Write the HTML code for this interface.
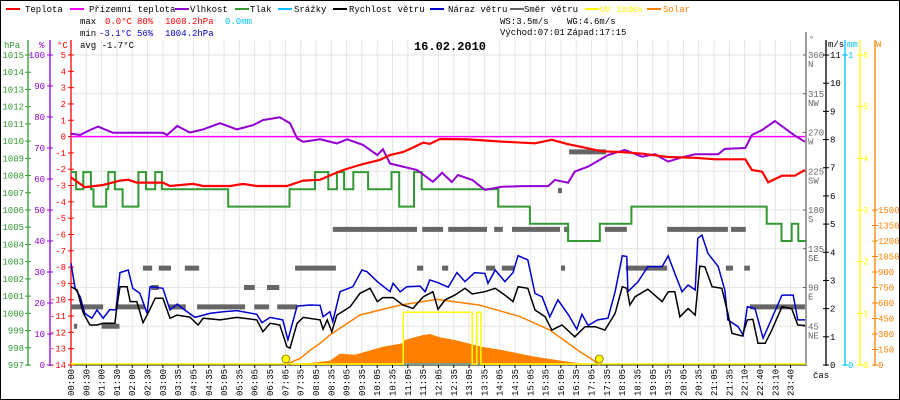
<!DOCTYPE html>
<html><head><meta charset="utf-8">
<style>
html,body{margin:0;padding:0;background:#fff;}
svg{display:block;}
text{font-family:"Liberation Mono","DejaVu Sans Mono",monospace;font-size:9px;}
</style></head>
<body>
<svg id="chart" width="900" height="400" viewBox="0 0 900 400" xmlns="http://www.w3.org/2000/svg">
<rect x="0.5" y="0.5" width="899" height="399" fill="#fff" stroke="#000"/>
<g id="grid"></g>
<g id="legend">
<rect x="6" y="8" width="14" height="2" fill="#f00"/><text x="25" y="12">Teplota</text>
<rect x="70" y="8" width="14" height="2" fill="#f0f"/><text x="89" y="12">Přízemní teplota</text>
<rect x="175" y="8" width="14" height="2" fill="#9400d3"/><text x="190" y="12">Vlhkost</text>
<rect x="235" y="8" width="14" height="2" fill="#339933"/><text x="250" y="12">Tlak</text>
<rect x="278" y="8" width="14" height="2" fill="#00bfff"/><text x="294" y="12">Srážky</text>
<rect x="333" y="8" width="14" height="2" fill="#000"/><text x="349" y="12">Rychlost větru</text>
<rect x="430" y="8" width="14" height="2" fill="#0000cc"/><text x="448" y="12">Náraz větru</text>
<rect x="510" y="8" width="14" height="2" fill="#666"/><text x="524" y="12">Směr větru</text>
<rect x="585" y="8" width="14" height="2" fill="#ff0"/><text x="600" y="12" fill="#ff0">UV index</text>
<rect x="647" y="8" width="14" height="2" fill="#ff8000"/><text x="663" y="12" fill="#ff8000">Solar</text>
</g>
<g id="stats">
<text x="80" y="24">max</text><text x="105" y="24" fill="#f00">0.0°C</text><text x="137" y="24" fill="#f00">80%</text><text x="165" y="24" fill="#f00">1008.2hPa</text><text x="225" y="24" fill="#00bfff">0.0mm</text>
<text x="80" y="36">min</text><text x="99" y="36" fill="#0000cc">-3.1°C</text><text x="137" y="36" fill="#0000cc">56%</text><text x="165" y="36" fill="#0000cc">1004.2hPa</text>
<text x="80" y="48">avg -1.7°C</text>
<text x="500" y="24">WS:3.5m/s</text><text x="567" y="24">WG:4.6m/s</text>
<text x="500" y="35">Východ:07:01</text><text x="567" y="35">Západ:17:15</text>
</g>
<text x="450" y="50" text-anchor="middle" style="font-size:12px;font-weight:bold">16.02.2010</text>
<g id="axes">
<text x="4" y="48" fill="#339933">hPa</text><text x="39" y="48" fill="#9400d3">%</text><text x="57" y="48" fill="#f00">°C</text>
<text x="809" y="42" fill="#666">°</text><text x="828" y="47">m/s</text><text x="847" y="47" fill="#00bfff">mm</text><text x="876" y="47" fill="#ff8000">W</text>
<text x="813" y="378">čas</text>
</g>
<g id="series"></g>
</svg>
<script>
// ---- data ----
const tempTimes=[0,27,63,96,112,129,180,194,239,259,312,337,364,423,455,488,502,533,572,605,625,650,664,690,703,723,778,844,909,942,974,1007,1040,1080,1119,1170,1223,1262,1321,1334,1354,1366,1393,1418,1438];
const tempValues=[-2.5,-3.1,-2.97,-2.7,-2.65,-2.82,-2.82,-3.03,-2.9,-3.03,-3.03,-2.9,-3.03,-3.03,-2.7,-2.65,-2.45,-2.05,-1.68,-1.43,-1.13,-0.95,-0.76,-0.37,-0.45,-0.15,-0.17,-0.31,-0.41,-0.2,-0.47,-0.68,-0.9,-0.95,-1.05,-1.25,-1.3,-1.39,-1.39,-2.05,-2.15,-2.8,-2.4,-2.4,-2.05];
const feelTimes=[0,1438];
const feelValues=[0,0];
const humTimes=[0,18,37,53,82,180,188,208,233,259,292,325,357,376,409,429,443,455,488,521,541,572,600,611,625,650,678,709,727,746,758,786,811,844,884,935,948,974,987,1013,1052,1085,1119,1144,1170,1197,1223,1268,1281,1321,1334,1354,1379,1399,1418,1438];
const humValues=[74.6,74.2,75.8,76.9,74.9,74.9,74.2,77.1,75,76,78,76,77.4,79,79.9,78,73.1,72,72.8,71.5,72.8,71,67.7,69.6,65,64,62.9,59.1,62,59,61.3,59.7,56.5,57.5,57.7,57.7,59.7,58.8,62.4,64,67.7,69.4,67.2,68,65.6,67,68,68,69.7,70,74.2,75.8,78.7,76.3,74,72];
const pressTimes=[0,10,24,39,44,69,73,86,101,132,147,165,178,308,428,478,504,521,535,553,582,628,643,672,687,837,899,974,1036,1098,1363,1392,1412,1425,1440];
const pressValues=[1008.2,1007.2,1008.2,1007.2,1006.2,1007.2,1008.2,1007.2,1006.2,1008.2,1007.2,1008.2,1007.2,1006.2,1007.2,1008.2,1007.2,1008.2,1007.2,1008.2,1007.2,1008.2,1006.2,1008.2,1007.2,1006.2,1005.2,1004.2,1005.2,1006.2,1005.2,1004.2,1005.2,1004.2,1004.2];
const windTimes=[0,12,24,37,51,63,86,90,96,110,116,129,141,151,165,180,194,208,233,249,259,292,325,364,376,390,409,423,429,443,455,488,494,502,511,521,547,566,586,600,611,631,650,670,690,709,719,733,752,772,786,811,831,850,866,876,895,909,929,942,962,987,1007,1027,1046,1066,1080,1089,1095,1105,1130,1158,1170,1183,1193,1209,1223,1232,1242,1256,1275,1287,1295,1315,1325,1336,1346,1360,1373,1393,1412,1424,1438];
const windValues=[2.78,2.66,1.84,1.42,1.42,1.48,1.48,2.07,2.78,2.78,2.25,2.25,1.5,1.84,2.37,2.37,1.66,1.77,1.7,1.42,1.66,1.6,1.69,1.6,1.18,1.48,1.42,0.65,0.6,1.48,1.69,1.6,1.27,1.6,1.18,1.77,2.07,2.54,2.72,2.25,2.39,2.39,2.13,2.01,2.42,2.6,1.98,2.31,2.48,2.72,2.52,2.6,2.72,2.48,2.25,2.78,2.72,1.95,1.71,1.24,1.42,1.0,1.36,1.36,1.24,1.83,2.78,2.72,2.13,2.42,2.69,2.25,2.6,2.6,1.71,2.0,1.77,3.51,3.48,2.78,2.72,1.83,1.12,1.03,1.6,1.62,0.77,0.77,1.24,2.07,2.0,1.42,1.4];
const gustTimes=[0,8,18,27,41,51,63,76,88,96,112,121,135,149,155,180,194,208,219,243,272,298,325,364,374,390,415,425,443,468,488,494,507,513,527,552,570,580,600,625,631,645,658,684,694,703,719,739,756,772,791,811,817,831,850,866,876,895,909,923,938,954,974,991,1001,1013,1032,1052,1066,1080,1089,1091,1111,1130,1158,1170,1183,1197,1209,1223,1228,1236,1248,1268,1281,1287,1307,1317,1325,1340,1356,1366,1393,1415,1424,1438];
const gustValues=[3.61,2.72,2.42,1.83,1.66,1.95,1.66,1.97,1.95,3.28,3.37,2.72,2.54,1.83,2.78,2.72,1.95,2.16,2.0,1.69,1.83,1.89,1.93,1.8,1.5,1.69,1.6,0.89,2.09,2.13,2.12,1.71,1.89,1.54,2.6,2.78,3.37,3.31,2.96,2.6,2.9,2.6,2.78,2.8,2.6,3.02,2.92,2.76,3.28,2.96,3.28,3.25,2.9,3.37,2.96,3.28,3.88,3.73,2.54,2.42,1.71,2.31,1.8,1.27,1.8,1.4,1.6,1.66,2.6,3.88,3.85,2.6,2.96,3.49,3.49,3.87,3.25,2.6,2.84,2.66,4.5,4.61,3.96,3.49,2.66,1.6,1.36,1.06,2.07,2.0,0.95,1.36,2.48,2.48,1.6,1.6];
const dirStart=[0,4,6,60,90,141,172,223,157,192,247,339,359,384,404,439,678,513,688,739,829,864,966,1046,1168,1293,976,954,727,813,844,960,1087,1283,1319,1330];
const dirEnd=[4,63,12,95,145,159,196,251,172,225,341,360,388,408,443,519,690,678,729,815,846,958,976,1089,1287,1322,1048,962,739,831,868,968,1168,1297,1330,1438];
const dirValues=[67.5,67.5,45,45,67.5,112.5,112.5,112.5,90,67.5,67.5,90,67.5,90,67.5,112.5,112.5,157.5,157.5,157.5,157.5,157.5,157.5,157.5,157.5,157.5,247.5,202.5,112.5,112.5,112.5,112.5,112.5,112.5,112.5,67.5];
const sunTimes=[419,449,468,488,507,566,645,717,801,880,938,997,1017,1036];
const sunValues=[0,65,140,210,290,484,580,635,580,467,339,129,68,0];
const solarTimes=[429,449,468,507,527,556,611,650,654,690,703,723,752,791,805,844,909,974,1021];
const solarValues=[0,15,19,42,110,100,177,210,242,290,300,268,242,194,177,145,80,32,0];
const uvTimes=[0,651,651,786,786,795,795,803,803,1440];
const uvValues=[0,0,1,1,0,0,1,1,0,0];
const sunEvents=[421,1035];
const timeLabels=["00:00","00:30","01:00","01:30","02:00","02:30","03:00","03:35","04:05","04:35","05:05","05:35","06:05","06:35","07:05","07:35","08:05","08:35","09:05","09:35","10:05","10:35","11:05","11:35","12:05","12:35","13:05","13:35","14:05","14:35","15:05","15:35","16:05","16:35","17:05","17:35","18:05","18:35","19:05","19:35","20:05","20:35","21:05","21:35","22:10","22:40","23:10","23:40"];
const hpaTicks=[997,998,999,1000,1001,1002,1003,1004,1005,1006,1007,1008,1009,1010,1011,1012,1013,1014,1015];
const humTicks=[0,10,20,30,40,50,60,70,80,90,100];
const tempTicks=[5,4,3,2,1,0,-1,-2,-3,-4,-5,-6,-7,-8,-9,-10,-11,-12,-13,-14];
const dirTicks=[360,315,270,225,180,135,90,45];
const dirNames=["N","NW","W","SW","S","SE","E","NE"];
const msTicks=[0,1,2,3,4,5,6,7,8,9,10,11];
const mmTicks=[0,1];
const uvTicks=[0,1,2,3,4,5,6];
const wTicks=[0,150,300,450,600,750,900,1050,1200,1350,1500];

// ---- scales ----
const X0=71,X1=806,Y0=55,Y1=365;
const xS=m=>X0+m/1440*(X1-X0);
const yT=v=>Y1-(v+14)/19*(Y1-Y0);
const yP=v=>Y1-(v-997)/18*(Y1-Y0);
const yH=v=>Y1-v/100*(Y1-Y0);
const yW=v=>Y1-v/11*(Y1-Y0);
const yD=v=>Y1-v/360*(Y1-Y0);
const yUV=v=>Y1-v/6*(Y1-Y0);
const ySol=v=>Y1-v/1500*155;
const yMM=v=>Y1-v*(Y1-Y0);
const NS="http://www.w3.org/2000/svg";
function mk(tag,parent,attrs){const e=document.createElementNS(NS,tag);for(const k in attrs)e.setAttribute(k,attrs[k]);parent.appendChild(e);return e;}
const grid=document.getElementById('grid');
const axes=document.getElementById('axes');
const series=document.getElementById('series');
function pts(ts,vs,fy,step){let s=[];for(let i=0;i<ts.length;i++){if(step&&i>0)s.push(xS(ts[i]).toFixed(1)+','+fy(vs[i-1]).toFixed(1));s.push(xS(ts[i]).toFixed(1)+','+fy(vs[i]).toFixed(1));}return s.join(' ');}

// grid
timeLabels.forEach((lb,i)=>{
  const x=X0+i*15.31;
  const l=mk('line',grid,{x1:x,x2:x,y1:40,y2:Y1,stroke:'#e4e4e4'});
  
  
  const t=mk('text',axes,{x:0,y:0,transform:`translate(${x+3},396) rotate(-90)`});
  
  
  t.textContent=lb;
  mk('line',axes,{x1:x,x2:x,y1:Y1,y2:Y1+3,stroke:'#000'});
});
dirTicks.forEach((d,i)=>{
  const y=yD(d);
  const l=mk('line',grid,{x1:X0,x2:X1,y1:y,y2:y,stroke:'#e4e4e4'});
  
  
  const t=mk('text',axes,{x:808,y:y+3,fill:'#666'});
  
  
  t.textContent=d;
  const t2=mk('text',axes,{x:808,y:y+12,fill:'#666'});
  
  
  t2.textContent=dirNames[i];
  mk('line',axes,{x1:X1-3,x2:X1,y1:y,y2:y,stroke:'#666'});
});
// axis lines
function vline(x,c,y0){mk('line',axes,{x1:x,x2:x,y1:y0,y2:Y1+1,stroke:c,'stroke-width':1.3});}
vline(28,'#339933',40);vline(50,'#9400d3',40);vline(71,'#f00',40);
vline(806,'#666',32);vline(826,'#000',40);vline(845,'#00bfff',40);vline(860,'#ff0',40);vline(875,'#ff8000',40);
mk('line',axes,{x1:71,x2:806,y1:Y1,y2:Y1,stroke:'#000'});
function ticks(arr,fy,axisX,color,lx,anchor){
  arr.forEach(v=>{
    const y=fy(v);
    mk('line',axes,{x1:axisX-3,x2:axisX+3,y1:y,y2:y,stroke:color});
    const t=mk('text',axes,{x:lx,y:y+3,fill:color,'text-anchor':anchor});
    
    
    t.textContent=v;
  });
}
ticks(hpaTicks,yP,28,'#339933',24,'end');
ticks(humTicks,yH,50,'#9400d3',45,'end');
ticks(tempTicks,yT,71,'#f00',66,'end');
ticks(msTicks,yW,826,'#000',830,'start');
ticks(mmTicks,yMM,845,'#00bfff',848,'start');
ticks(uvTicks,yUV,860,'#ff0',863,'start');
ticks(wTicks,ySol,875,'#ff8000',878,'start');

// solar fill
let sp=solarTimes.map((t,i)=>xS(t).toFixed(1)+','+ySol(solarValues[i]).toFixed(1)).join(' ');
const solarFill=mk('polygon',series,{points:sp+` ${xS(solarTimes[solarTimes.length-1])},${Y1} ${xS(solarTimes[0])},${Y1}`,fill:'#ff8000'});


const sunLine=mk('polyline',series,{points:pts(sunTimes,sunValues,ySol),fill:'none',stroke:'#ff8000','stroke-width':1.5});


// wind direction bars
dirValues.forEach((d,i)=>{
  const r=mk('rect',series,{x:xS(dirStart[i]),y:yD(d)-2.5,width:Math.max(2,xS(dirEnd[i])-xS(dirStart[i])),height:5,fill:'#666'});
  
  
});
const pl=mk('polyline',series,{points:pts(pressTimes,pressValues,yP,true),fill:'none',stroke:'#339933','stroke-width':2});


const gl=mk('polyline',series,{points:pts(gustTimes,gustValues,yW),fill:'none',stroke:'#0000cc','stroke-width':1.5});


const wl=mk('polyline',series,{points:pts(windTimes,windValues,yW),fill:'none',stroke:'#000','stroke-width':1.5});


const fl=mk('polyline',series,{points:pts(feelTimes,feelValues,yT),fill:'none',stroke:'#f0f','stroke-width':1.5});


const hl=mk('polyline',series,{points:pts(humTimes,humValues,yH),fill:'none',stroke:'#9400d3','stroke-width':2});


const tl=mk('polyline',series,{points:pts(tempTimes,tempValues,yT),fill:'none',stroke:'#f00','stroke-width':2.2});


const rl=mk('line',series,{x1:X0,x2:X1,y1:yMM(0)-1,y2:yMM(0)-1,stroke:'#00bfff','stroke-width':1});


const ul=mk('polyline',series,{points:pts(uvTimes,uvValues,v=>yUV(v)-1),fill:'none',stroke:'#ff0','stroke-width':1.5});


sunEvents.forEach(t=>{
  const c=mk('circle',series,{cx:xS(t),cy:359,r:4,fill:'#ff0',stroke:'#886600','stroke-width':0.8});
  
  
});
</script>
</body></html>
